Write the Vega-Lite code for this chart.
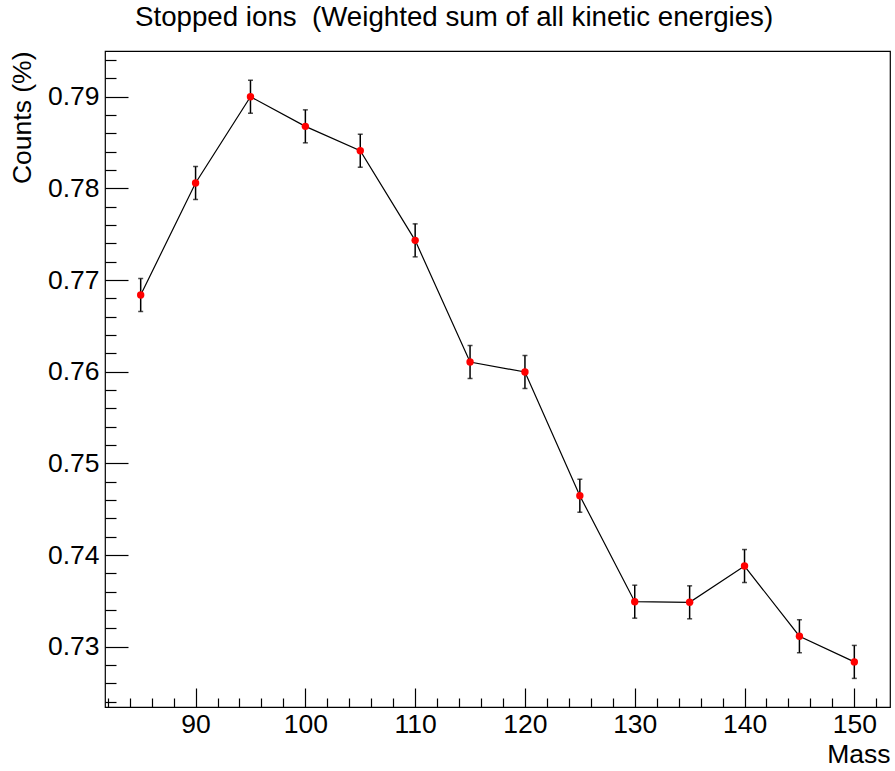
{
  "$schema": "https://vega.github.io/schema/vega-lite/v6.json",
  "width": 785,
  "height": 656,
  "autosize": {"type": "none"},
  "padding": {"left": 105, "top": 51, "right": 5, "bottom": 64},
  "background": "white",
  "config": {
    "view": {"stroke": "#000", "strokeWidth": 1.2},
    "font": "Liberation Sans"
  },
  "title": {
    "text": "Stopped ions \u00a0(Weighted sum of all kinetic energies)",
    "anchor": "start",
    "frame": "group",
    "dx": 30,
    "offset": -7,
    "baseline": "alphabetic",
    "fontSize": 27.7,
    "fontWeight": "normal",
    "font": "Liberation Sans",
    "color": "#000"
  },
  "data": {
    "values": [
      {"mass": 85, "counts": 0.76837, "lo": 0.76657, "hi": 0.77017},
      {"mass": 90, "counts": 0.78059, "lo": 0.77879, "hi": 0.78239},
      {"mass": 95, "counts": 0.79, "lo": 0.7882, "hi": 0.7918},
      {"mass": 100, "counts": 0.78677, "lo": 0.78497, "hi": 0.78857},
      {"mass": 105, "counts": 0.78411, "lo": 0.78231, "hi": 0.78591},
      {"mass": 110, "counts": 0.77433, "lo": 0.77253, "hi": 0.77613},
      {"mass": 115, "counts": 0.76106, "lo": 0.75926, "hi": 0.76286},
      {"mass": 120, "counts": 0.75997, "lo": 0.75817, "hi": 0.76177},
      {"mass": 125, "counts": 0.74647, "lo": 0.74467, "hi": 0.74827},
      {"mass": 130, "counts": 0.73491, "lo": 0.73311, "hi": 0.73671},
      {"mass": 135, "counts": 0.73484, "lo": 0.73304, "hi": 0.73664},
      {"mass": 140, "counts": 0.7388, "lo": 0.737, "hi": 0.7406},
      {"mass": 145, "counts": 0.73114, "lo": 0.72934, "hi": 0.73294},
      {"mass": 150, "counts": 0.72834, "lo": 0.72654, "hi": 0.73014}
    ]
  },
  "encoding": {
    "x": {
      "field": "mass",
      "type": "quantitative",
      "scale": {"domain": [81.75, 153.25], "nice": false, "zero": false},
      "axis": {
        "title": "Mass",
        "titleFont": "Liberation Sans",
        "titleFontSize": 26.5,
        "titleFontWeight": "normal",
        "titleColor": "#000",
        "titleAlign": "right",
        "titleAnchor": "end",
        "titleBaseline": "alphabetic",
        "titleX": 785,
        "titleY": 55,
        "values": [82,84,86,88,90,92,94,96,98,100,102,104,106,108,110,112,114,116,118,120,122,124,126,128,130,132,134,136,138,140,142,144,146,148,150,152],
        "labelExpr": "datum.value % 10 == 0 ? datum.label : ''",
        "labelFont": "Liberation Sans",
        "labelFontSize": 26.5,
        "labelColor": "#000",
        "labelPadding": 23,
        "labelFlush": false,
        "labelOverlap": false,
        "labelBound": false,
        "domain": false,
        "grid": false,
        "tickColor": "#000",
        "tickWidth": 1.2,
        "tickSize": {"condition": {"test": "datum.value % 10 == 0", "value": -19}, "value": -9}
      }
    },
    "y": {
      "field": "counts",
      "type": "quantitative",
      "scale": {"domain": [0.72342, 0.79499], "nice": false, "zero": false},
      "axis": {
        "title": "Counts (%)",
        "titleFont": "Liberation Sans",
        "titleFontSize": 26.5,
        "titleFontWeight": "normal",
        "titleColor": "#000",
        "titleAngle": -90,
        "titleAlign": "right",
        "titleAnchor": "end",
        "titleBaseline": "top",
        "titleX": -96,
        "titleY": 0,
        "values": [0.724,0.726,0.728,0.73,0.732,0.734,0.736,0.738,0.74,0.742,0.744,0.746,0.748,0.75,0.752,0.754,0.756,0.758,0.76,0.762,0.764,0.766,0.768,0.77,0.772,0.774,0.776,0.778,0.78,0.782,0.784,0.786,0.788,0.79,0.792,0.794],
        "labelExpr": "round(datum.value * 1000) % 10 == 0 ? format(datum.value, '.2f') : ''",
        "labelFont": "Liberation Sans",
        "labelFontSize": 26.5,
        "labelColor": "#000",
        "labelPadding": 29,
        "labelFlush": false,
        "labelOverlap": false,
        "labelBound": false,
        "domain": false,
        "grid": false,
        "tickColor": "#000",
        "tickWidth": 1.2,
        "tickSize": {"condition": {"test": "round(datum.value * 1000) % 10 == 0", "value": -23}, "value": -11}
      }
    }
  },
  "layer": [
    {
      "mark": {"type": "line", "color": "#000", "strokeWidth": 1.2}
    },
    {
      "mark": {"type": "errorbar", "ticks": {"size": 5, "thickness": 1.5, "color": "#000"}, "rule": {"strokeWidth": 1.5, "color": "#000"}},
      "encoding": {
        "y": {
          "field": "lo",
          "type": "quantitative",
          "axis": {
            "title": "Counts (%)",
            "titleFont": "Liberation Sans",
            "titleFontSize": 26.5,
            "titleFontWeight": "normal",
            "titleColor": "#000",
            "titleAngle": -90,
            "titleAlign": "right",
            "titleAnchor": "end",
            "titleBaseline": "top",
            "titleX": -96,
            "titleY": 0,
            "values": [0.724,0.726,0.728,0.73,0.732,0.734,0.736,0.738,0.74,0.742,0.744,0.746,0.748,0.75,0.752,0.754,0.756,0.758,0.76,0.762,0.764,0.766,0.768,0.77,0.772,0.774,0.776,0.778,0.78,0.782,0.784,0.786,0.788,0.79,0.792,0.794],
            "labelExpr": "round(datum.value * 1000) % 10 == 0 ? format(datum.value, '.2f') : ''",
            "labelFont": "Liberation Sans",
            "labelFontSize": 26.5,
            "labelColor": "#000",
            "labelPadding": 29,
            "labelFlush": false,
            "labelOverlap": false,
            "labelBound": false,
            "domain": false,
            "grid": false,
            "tickColor": "#000",
            "tickWidth": 1.2,
            "tickSize": {"condition": {"test": "round(datum.value * 1000) % 10 == 0", "value": -23}, "value": -11}
          }
        },
        "y2": {"field": "hi"}
      }
    },
    {
      "mark": {"type": "circle", "color": "#ff0000", "opacity": 1, "size": 55}
    }
  ]
}
